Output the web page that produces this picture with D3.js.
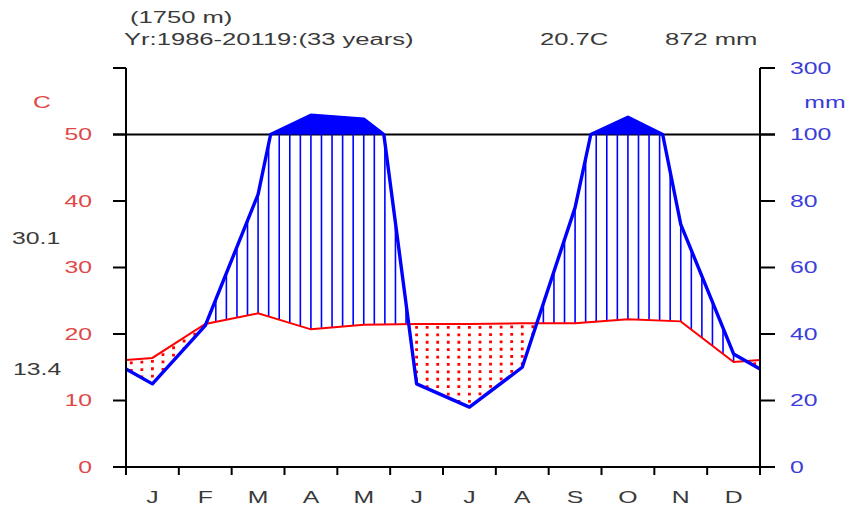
<!DOCTYPE html>
<html>
<head>
<meta charset="utf-8">
<script src="https://cdn.jsdelivr.net/npm/d3@7"></script>
<style>
  body { margin: 0; background: #fff; }
  svg { display: block; }
  text { font-family: "Liberation Sans", Arial, sans-serif; }
</style>
</head>
<body>
<div id="chart"></div>
<script>
// monthly climate values
const months = ["J", "F", "M", "A", "M", "J", "J", "A", "S", "O", "N", "D"];
const tempC = [16.4, 21.5, 23.1, 20.7, 21.4, 21.5, 21.5, 21.6, 21.6, 22.2, 21.9, 15.8];
const precMm = [25, 42.5, 82, 158, 146, 25, 18, 30, 78, 152, 73, 34];
const tempTicks = [0, 10, 20, 30, 40, 50];
const precTicks = [0, 20, 40, 60, 80, 100, 300];
const altLabel = "(1750 m)";
const periodLabel = "Yr:1986-20119:(33 years)";
const meanTempLabel = "20.7C";
const totalPrecLabel = "872 mm";
const maxWarmLabel = "30.1";
const minColdLabel = "13.4";

const W = 852, H = 508;
const red = "#ff0000", blue = "#0000ff";
const redText = "#e04848", blueText = "#3c3cd8", greyText = "#3a3a3a";

const svg = d3.select("#chart").append("svg")
    .attr("width", W)
    .attr("height", H);

const x = d3.scaleLinear().domain([0, 12]).range([126, 760]);
const y = d3.scaleLinear().domain([0, 60]).range([467, 68]);

// Walter-Lieth: 10 C = 20 mm up to 100 mm, then 10 C = 200 mm
const pToT = p => p <= 100 ? p / 2 : 50 + (p - 100) / 20;

// month midpoints plus both edges, edges = mean of Dec and Jan
const xs = [0].concat(months.map((m, i) => i + 0.5), [12]);
const tEdge = (tempC[0] + tempC[11]) / 2;
const pEdge = (precMm[0] + precMm[11]) / 2;
const tVals = [tEdge].concat(tempC, [tEdge]);
const pVals = [pEdge].concat(precMm, [pEdge]);
const tAt = d3.scaleLinear().domain(xs).range(tVals);
const pAt = d3.scaleLinear().domain(xs).range(pVals);

// precipitation curve with a break point where it crosses 100 mm
const precPts = [];
xs.forEach((xm, i) => {
    precPts.push({ m: xm, v: pToT(pVals[i]) });
    if (i < xs.length - 1) {
        const a = pVals[i], b = pVals[i + 1];
        if ((a - 100) * (b - 100) < 0) {
            const f = (100 - a) / (b - a);
            precPts.push({ m: xm + f * (xs[i + 1] - xm), v: 50 });
        }
    }
});
const tempPts = xs.map((xm, i) => ({ m: xm, v: tVals[i] }));

// 50 C / 100 mm reference line
svg.append("line")
    .attr("x1", 113).attr("x2", 775)
    .attr("y1", y(50)).attr("y2", y(50))
    .attr("stroke", "#000").attr("stroke-width", 2);

// hatching: wet (blue verticals) and dry (red dotted verticals)
const hatch = svg.append("g");
d3.range(60).forEach(k => {
    const xm = (k + 0.5) / 5;
    const t = tAt(xm);
    const p = pToT(pAt(xm));
    if (p > t) {
        hatch.append("line")
            .attr("x1", x(xm)).attr("x2", x(xm))
            .attr("y1", y(t)).attr("y2", y(Math.min(p, 50)))
            .attr("stroke", blue).attr("stroke-width", 1.6);
    } else {
        hatch.append("line")
            .attr("x1", x(xm)).attr("x2", x(xm))
            .attr("y1", y(t) + 2).attr("y2", y(p))
            .attr("stroke", red).attr("stroke-width", 2.8)
            .attr("stroke-dasharray", "2.8,4.6");
    }
});

// solid fill above 100 mm
svg.append("path")
    .datum(precPts)
    .attr("fill", blue)
    .attr("d", d3.area()
        .x(d => x(d.m))
        .y0(y(50))
        .y1(d => y(Math.max(50, d.v))));

const line = d3.line().x(d => x(d.m)).y(d => y(d.v));

svg.append("path")
    .datum(tempPts)
    .attr("fill", "none")
    .attr("stroke", red)
    .attr("stroke-width", 2)
    .attr("d", line);

svg.append("path")
    .datum(precPts)
    .attr("fill", "none")
    .attr("stroke", blue)
    .attr("stroke-width", 3.4)
    .attr("stroke-linejoin", "round")
    .attr("d", line);

// axes
const axes = svg.append("g").attr("stroke", "#000").attr("stroke-width", 2);
axes.append("line").attr("x1", x(0)).attr("x2", x(0)).attr("y1", y(60)).attr("y2", 475);
axes.append("line").attr("x1", x(12)).attr("x2", x(12)).attr("y1", y(60)).attr("y2", 475);
axes.append("line").attr("x1", 113).attr("x2", 775).attr("y1", y(0)).attr("y2", y(0));
tempTicks.concat([60]).forEach(v => {
    axes.append("line").attr("x1", 113).attr("x2", x(0)).attr("y1", y(v)).attr("y2", y(v));
});
precTicks.forEach(v => {
    axes.append("line").attr("x1", x(12)).attr("x2", 775).attr("y1", y(pToT(v))).attr("y2", y(pToT(v)));
});
d3.range(1, 12).forEach(m => {
    axes.append("line").attr("x1", x(m)).attr("x2", x(m)).attr("y1", y(0)).attr("y2", 475);
});

// text helper: glyphs in the original are stretched horizontally
function label(px, py, str, color, anchor, sx) {
    svg.append("g")
        .attr("transform", `translate(${px},${py}) scale(${sx || 1.55},1)`)
        .append("text")
        .attr("text-anchor", anchor || "start")
        .attr("dy", "0.36em")
        .attr("font-size", 16)
        .attr("fill", color)
        .text(str);
}

tempTicks.forEach(v => label(92, y(v), v, redText, "end"));
label(42, 102, "C", redText, "middle");
precTicks.forEach(v => label(790, y(pToT(v)), v, blueText, "start"));
label(825, 102, "mm", blueText, "middle");
months.forEach((m, i) => label(x(i + 0.5), 497, m, greyText, "middle"));

label(12, 238, maxWarmLabel, greyText, "start");
label(13, 369, minColdLabel, greyText, "start");

label(130, 17, altLabel, greyText, "start", 1.6);
label(124, 39, periodLabel, greyText, "start", 1.6);
label(540, 39, meanTempLabel, greyText, "start", 1.6);
label(665, 39, totalPrecLabel, greyText, "start", 1.6);
</script>
</body>
</html>
